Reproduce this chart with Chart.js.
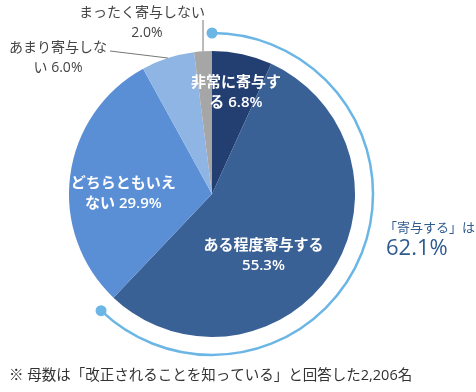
<!DOCTYPE html>
<html>
<head>
<meta charset="utf-8">
<script src="https://cdn.jsdelivr.net/npm/chart.js@4"></script>
<style>
  html, body { margin: 0; padding: 0; background: #fff; }
  #wrap { position: relative; width: 476px; height: 392px; }
</style>
</head>
<body>
<div id="wrap"><canvas id="pieChart" width="476" height="392"></canvas></div>
<script>
// data
const categories = ['非常に寄与する', 'ある程度寄与する', 'どちらともいえない', 'あまり寄与しない', 'まったく寄与しない'];
const values = [6.8, 55.3, 29.9, 6.0, 2.0];
const colors = ['#233f72', '#3a6195', '#5a8fd5', '#8fb5e4', '#a6a6a6'];
const contributeIdx = [0, 1]; // 「寄与する」 = 非常に + ある程度
const footnote = '※ 母数は「改正されることを知っている」と回答した2,206名';

const FONT = '"Open Sans", "Noto Sans CJK JP", sans-serif';

// label placement: angle offset (deg from slice mid), radius factor, line break position
const labelLayout = [
  { inside: true, da: 1, rf: 0.73, br: 6 },
  { inside: true, da: 16, rf: 0.56, br: 8 },
  { inside: true, da: -7, rf: 0.62, br: 7 },
  { inside: false, br: 7, tx: 58, ty: 48, lx: 110, ly: 51, dx2: 0 },
  { inside: false, br: 9, tx: 142, ty: 13, lx: 203, ly: 20, dx2: 5 }
];

function lines(i) {
  const full = categories[i] + ' ' + values[i].toFixed(1) + '%';
  const br = labelLayout[i].br;
  return [full.slice(0, br).trim(), full.slice(br).trim()];
}

const labelPlugin = {
  id: 'labels',
  afterDatasetsDraw(chart) {
    const ctx = chart.ctx;
    const arcs = chart.getDatasetMeta(0).data;
    const cx = arcs[0].x, cy = arcs[0].y, R = arcs[0].outerRadius;
    ctx.save();
    ctx.textBaseline = 'middle';

    arcs.forEach((arc, i) => {
      const L = labelLayout[i];
      const [l1, l2] = lines(i);
      const mid = (arc.startAngle + arc.endAngle) / 2;
      if (L.inside) {
        const a = mid + L.da * Math.PI / 180;
        const x = cx + Math.cos(a) * R * L.rf;
        const y = cy + Math.sin(a) * R * L.rf;
        ctx.fillStyle = '#ffffff';
        ctx.font = '600 15px ' + FONT;
        ctx.textAlign = 'center';
        ctx.fillText(l1, x, y - 10);
        ctx.fillText(l2, x, y + 10);
      } else {
        // leader line from slice edge
        const ex = cx + Math.cos(mid) * R;
        const ey = cy + Math.sin(mid) * R;
        ctx.strokeStyle = '#777';
        ctx.lineWidth = 1;
        ctx.beginPath();
        ctx.moveTo(ex, ey);
        ctx.lineTo(i === 4 ? ex : L.lx, L.ly);
        ctx.stroke();
        ctx.fillStyle = '#444';
        ctx.font = '14px ' + FONT;
        ctx.textAlign = 'center';
        ctx.fillText(l1, L.tx, L.ty);
        ctx.fillText(l2, L.tx + L.dx2, L.ty + 20);
      }
    });

    // ring marking 「寄与する」
    const share = contributeIdx.reduce((s, k) => s + values[k], 0);
    const total = values.reduce((s, v) => s + v, 0);
    const rr = R + 18;
    const a0 = -Math.PI / 2;
    const a1 = a0 + share / total * Math.PI * 2;
    ctx.strokeStyle = '#6cb6e6';
    ctx.lineWidth = 2.5;
    ctx.beginPath();
    ctx.arc(cx, cy, rr, a0, a1);
    ctx.stroke();
    ctx.fillStyle = '#6cb6e6';
    [a0, a1].forEach(a => {
      ctx.beginPath();
      ctx.arc(cx + Math.cos(a) * rr, cy + Math.sin(a) * rr, 5.5, 0, Math.PI * 2);
      ctx.fill();
    });

    ctx.textAlign = 'left';
    ctx.fillStyle = '#2f5b8f';
    ctx.font = '13px ' + FONT;
    ctx.fillText('「寄与する」は', 384, 228);
    ctx.font = '22px ' + FONT;
    ctx.fillText(share.toFixed(1) + '%', 386, 249);

    ctx.fillStyle = '#333';
    ctx.font = '14.5px ' + FONT;
    ctx.fillText(footnote, 9, 376);
    ctx.restore();
  }
};

const ctx = document.getElementById('pieChart').getContext('2d');
const pieChart = new Chart(ctx, {
  type: 'pie',
  data: {
    labels: categories,
    datasets: [{
      data: values,
      backgroundColor: colors,
      borderWidth: 0
    }]
  },
  options: {
    responsive: false,
    animation: false,
    layout: { padding: { left: 69, right: 121, top: 51, bottom: 55 } },
    plugins: {
      legend: { display: false },
      tooltip: { enabled: false }
    }
  },
  plugins: [labelPlugin]
});
</script>
</body>
</html>
